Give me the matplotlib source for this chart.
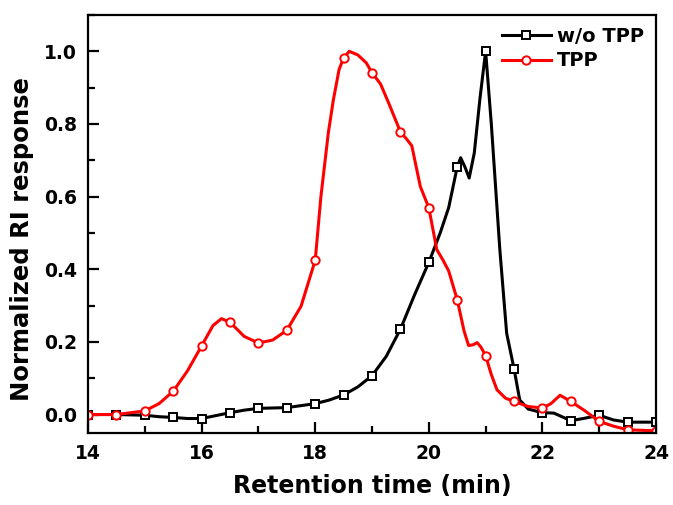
import numpy as np
import matplotlib
matplotlib.use("Agg")
import matplotlib.pyplot as plt
from matplotlib.ticker import MultipleLocator, FormatStrFormatter

plt.rcParams['font.family'] = ['DejaVu Sans']
plt.rcParams['font.weight'] = 'bold'

# w/o TPP
x_wo = [14, 14.5, 15, 15.25, 15.5, 15.75, 16, 16.25, 16.5, 16.75, 17, 17.5, 18, 18.25, 18.5,
        18.75, 19, 19.25, 19.5, 19.75, 20, 20.2, 20.35, 20.5, 20.56, 20.64, 20.71, 20.8, 20.9,
        21, 21.1, 21.25, 21.37, 21.5, 21.6, 21.75, 22, 22.2, 22.5, 22.75, 23, 23.25, 23.5, 24]
y_wo = [0.0, 0.0, -0.002, -0.006, -0.008, -0.011, -0.011, -0.003, 0.005, 0.012, 0.017, 0.019,
        0.030, 0.040, 0.054, 0.076, 0.107, 0.160, 0.235, 0.330, 0.419, 0.500, 0.570, 0.682,
        0.707, 0.680, 0.651, 0.720, 0.870, 1.0, 0.800, 0.454, 0.224, 0.126, 0.040, 0.015,
        0.005, 0.004, -0.017, -0.010, -0.002, -0.015, -0.021, -0.021]

# TPP
x_tpp = [14, 14.5, 15, 15.25, 15.5, 15.75, 16, 16.2, 16.35, 16.5, 16.75, 17, 17.25, 17.5, 17.75,
         18, 18.1, 18.23, 18.32, 18.42, 18.5, 18.6, 18.75, 18.9, 19, 19.15, 19.3, 19.5, 19.6,
         19.7, 19.85, 20, 20.14, 20.25, 20.35, 20.5, 20.62, 20.7, 20.78, 20.85, 20.92, 21, 21.1,
         21.2, 21.35, 21.5, 21.75, 22, 22.15, 22.31, 22.5, 22.75, 23, 23.25, 23.5, 24]
y_tpp = [0.0, 0.0, 0.010, 0.030, 0.064, 0.120, 0.189, 0.245, 0.264, 0.254, 0.215, 0.197, 0.205,
         0.232, 0.298, 0.425, 0.600, 0.775, 0.867, 0.950, 0.982, 1.0, 0.990, 0.968, 0.941, 0.910,
         0.855, 0.778, 0.760, 0.740, 0.628, 0.569, 0.454, 0.425, 0.395, 0.316, 0.230, 0.190,
         0.192, 0.198, 0.185, 0.162, 0.110, 0.068, 0.045, 0.036, 0.022, 0.018, 0.030, 0.053,
         0.036, 0.010, -0.019, -0.032, -0.042, -0.045]

def mark_mask(xs):
    return [abs(v * 2 - round(v * 2)) < 1e-9 for v in xs]

fig = plt.figure(figsize=(6.73, 5.05), dpi=100)
ax = fig.add_axes([0.1308, 0.1432, 0.8440, 0.8271])

ax.plot(x_wo, y_wo, color='black', lw=2.2, marker='s', ms=5.5, mfc='white', mec='black',
        mew=1.4, markevery=mark_mask(x_wo), label='w/o TPP')
ax.plot(x_tpp, y_tpp, color='#ff0000', lw=2.2, marker='o', ms=6, mfc='white', mec='#ff0000',
        mew=1.4, markevery=mark_mask(x_tpp), label='TPP')

ax.set_xlim(14, 24)
ax.set_ylim(-0.05, 1.1)
ax.xaxis.set_major_locator(MultipleLocator(2))
ax.xaxis.set_minor_locator(MultipleLocator(1))
ax.yaxis.set_major_locator(MultipleLocator(0.2))
ax.yaxis.set_minor_locator(MultipleLocator(0.1))
ax.yaxis.set_major_formatter(FormatStrFormatter('%.1f'))
ax.tick_params(which='major', direction='in', length=8, width=1.6, labelsize=13.5)
ax.tick_params(axis='y', which='major', pad=8)
ax.tick_params(axis='x', which='major', pad=8)
ax.tick_params(which='minor', direction='in', length=5, width=1.6)
for s in ax.spines.values():
    s.set_linewidth(1.6)
for lab in ax.get_xticklabels() + ax.get_yticklabels():
    lab.set_fontweight('bold')

ax.set_xlabel('Retention time (min)', fontsize=17, fontweight='bold', labelpad=8)
ax.set_ylabel('Normalized RI response', fontsize=17.5, fontweight='bold')
ax.yaxis.set_label_coords(-0.095, 0.463)

ax.legend(loc='upper right', frameon=False, handlelength=2.5,
          handletextpad=0.35, borderaxespad=0.2, labelspacing=0.3,
          bbox_to_anchor=(1.0, 1.0), prop={'weight': 'bold', 'size': 14})

fig.savefig('out.png', dpi=100)
